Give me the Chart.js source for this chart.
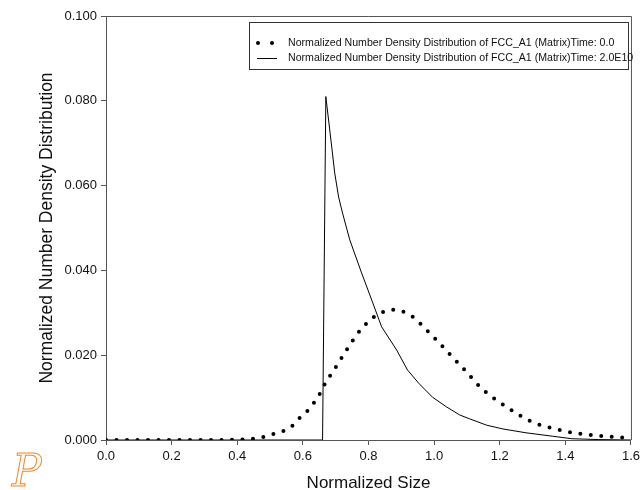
<!DOCTYPE html>
<html>
<head>
<meta charset="utf-8">
<script src="https://cdn.jsdelivr.net/npm/chart.js@4"></script>
<style>
  html, body { margin: 0; padding: 0; background: #fff; }
  #wrap { width: 644px; height: 490px; }
</style>
</head>
<body>
<div id="wrap"><canvas id="grafico"></canvas></div>
<script>
// Dados
const tamanhoInicial = [0.0, 0.1, 0.2, 0.3, 0.4, 0.45, 0.48, 0.51, 0.54, 0.567, 0.59, 0.613, 0.633, 0.651, 0.667, 0.703, 0.737, 0.773, 0.82, 0.877, 0.94, 0.962, 1.007, 1.053, 1.096, 1.14, 1.19, 1.245, 1.30, 1.36, 1.425, 1.49, 1.555, 1.6];
const densidadeInicial = [0, 0, 0, 0, 0.0001, 0.0003, 0.0007, 0.0014, 0.0021, 0.0033, 0.0052, 0.0068, 0.0087, 0.0108, 0.0132, 0.0175, 0.0217, 0.0257, 0.0292, 0.0307, 0.0288, 0.0271, 0.0236, 0.0198, 0.0163, 0.0125, 0.0094, 0.0066, 0.0042, 0.0028, 0.0017, 0.0011, 0.0007, 0.0005];

const tamanhoFinal = [0.0, 0.66, 0.67, 0.688, 0.697, 0.709, 0.721, 0.743, 0.779, 0.81, 0.84, 0.886, 0.919, 0.953, 0.995, 1.038, 1.078, 1.108, 1.16, 1.21, 1.28, 1.36, 1.42, 1.5, 1.6];
const densidadeFinal = [0, 0, 0.081, 0.0691, 0.063, 0.0573, 0.0535, 0.0472, 0.0394, 0.033, 0.0267, 0.0212, 0.0165, 0.0134, 0.0101, 0.0078, 0.0059, 0.005, 0.0035, 0.0026, 0.0017, 0.0009, 0.0003, 0.0001, 0];

const rotulos = [
    'Normalized Number Density Distribution of FCC_A1 (Matrix)Time: 0.0',
    'Normalized Number Density Distribution of FCC_A1 (Matrix)Time: 2.0E10'
];

const corEixo = '#555';
const fonte = 'Arial, "Liberation Sans", sans-serif';

function pontos(xs, ys) {
    return xs.map((x, i) => ({ x: x, y: ys[i] }));
}

// Moldura (topo e direita) da área do gráfico
const moldura = {
    id: 'moldura',
    afterDraw(chart) {
        const { ctx, chartArea: a } = chart;
        ctx.save();
        ctx.strokeStyle = corEixo;
        ctx.lineWidth = 1;
        ctx.beginPath();
        ctx.moveTo(a.left, a.top + 0.5);
        ctx.lineTo(a.right + 0.5, a.top + 0.5);
        ctx.lineTo(a.right + 0.5, a.bottom);
        ctx.stroke();
        ctx.restore();
    }
};

// Legenda em caixa no canto superior direito
const legenda = {
    id: 'legenda',
    afterDraw(chart) {
        const ctx = chart.ctx;
        ctx.save();
        ctx.fillStyle = '#fff';
        ctx.fillRect(249, 22, 379, 47);
        ctx.strokeStyle = '#333';
        ctx.lineWidth = 1;
        ctx.strokeRect(249.5, 22.5, 379, 47);
        ctx.font = '10.6px ' + fonte;
        ctx.textBaseline = 'middle';
        const linhas = [43, 58];
        // amostra pontilhada
        ctx.fillStyle = '#000';
        [258, 272].forEach(x => {
            ctx.beginPath();
            ctx.arc(x, linhas[0], 2, 0, Math.PI * 2);
            ctx.fill();
        });
        // amostra contínua
        ctx.strokeStyle = '#000';
        ctx.beginPath();
        ctx.moveTo(257, linhas[1] + 0.5);
        ctx.lineTo(277, linhas[1] + 0.5);
        ctx.stroke();
        ctx.fillStyle = '#111';
        rotulos.forEach((t, i) => ctx.fillText(t, 288, linhas[i]));
        ctx.restore();
    }
};

// Logotipo no canto inferior esquerdo
const logo = {
    id: 'logo',
    afterDraw(chart) {
        const ctx = chart.ctx;
        ctx.save();
        ctx.font = 'italic 44px "DejaVu Serif", serif';
        ctx.strokeStyle = '#f0892a';
        ctx.lineWidth = 1;
        ctx.strokeText('P', 12, 486);
        ctx.restore();
    }
};

function criarGrafico() {
    const ctx = document.getElementById('grafico').getContext('2d');
    new Chart(ctx, {
        type: 'scatter',
        data: {
            datasets: [
                {
                    label: rotulos[0],
                    data: pontos(tamanhoInicial, densidadeInicial),
                    showLine: true,
                    borderColor: '#000',
                    borderWidth: 4,
                    borderDash: [0, 10.5],
                    borderCapStyle: 'round',
                    cubicInterpolationMode: 'monotone',
                    pointRadius: 0
                },
                {
                    label: rotulos[1],
                    data: pontos(tamanhoFinal, densidadeFinal),
                    showLine: true,
                    borderColor: '#000',
                    borderWidth: 1,
                    tension: 0,
                    pointRadius: 0
                }
            ]
        },
        options: {
            responsive: true,
            maintainAspectRatio: false,
            animation: false,
            layout: { padding: { top: 16, right: 12, left: 37, bottom: 0 } },
            plugins: {
                legend: { display: false },
                tooltip: { enabled: false }
            },
            scales: {
                x: {
                    type: 'linear',
                    min: 0,
                    max: 1.6,
                    border: { color: corEixo, width: 1 },
                    grid: { drawOnChartArea: false, drawTicks: true, tickLength: 5, tickColor: corEixo },
                    ticks: {
                        stepSize: 0.2,
                        color: '#111',
                        font: { family: fonte, size: 13 },
                        padding: 4,
                        maxRotation: 0,
                        callback: v => v.toFixed(1)
                    },
                    title: {
                        display: true,
                        text: 'Normalized Size',
                        color: '#111',
                        font: { family: fonte, size: 17 },
                        padding: { top: 6, bottom: -4 }
                    },
                    afterFit: s => { s.height = 50; }
                },
                y: {
                    min: 0,
                    max: 0.1,
                    border: { color: corEixo, width: 1 },
                    grid: { drawOnChartArea: false, drawTicks: true, tickLength: 5, tickColor: corEixo },
                    ticks: {
                        stepSize: 0.02,
                        color: '#111',
                        font: { family: fonte, size: 13 },
                        padding: 4,
                        callback: v => v.toFixed(3)
                    },
                    title: {
                        display: true,
                        text: 'Normalized Number Density Distribution',
                        color: '#111',
                        font: { family: fonte, size: 17.5 },
                        padding: { top: 0, bottom: 8 }
                    },
                    afterFit: s => { s.width = 69; }
                }
            }
        },
        plugins: [moldura, legenda, logo]
    });
}

criarGrafico();
</script>
</body>
</html>
